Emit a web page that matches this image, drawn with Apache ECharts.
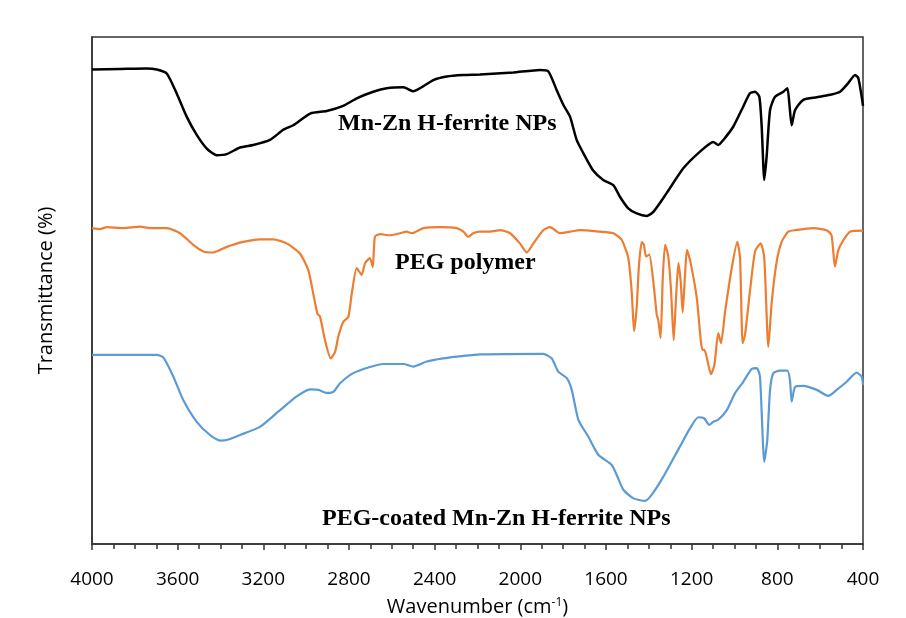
<!DOCTYPE html>
<html>
<head>
<meta charset="utf-8">
<script src="https://cdn.jsdelivr.net/npm/echarts@6/dist/echarts.min.js"></script>
<style>
    html, body { margin: 0; padding: 0; background: #fff; }
    #ftir { width: 906px; height: 618px; }
</style>
</head>
<body>
<div id="ftir"></div>
<script>
// wavenumber (cm-1) and transmittance (arbitrary, offset per curve)
var ferriteWave = [4000, 3869, 3745, 3698, 3651, 3605, 3558, 3511, 3464, 3418, 3371, 3309, 3247, 3169, 3107, 3060,
    2981, 2904, 2827, 2764, 2687, 2624, 2546, 2500, 2406, 2344, 2266, 2188, 2033, 1908, 1869, 1830, 1799, 1768,
    1737, 1706, 1659, 1613, 1566, 1535, 1496, 1457, 1410, 1379, 1317, 1239, 1161, 1099, 1076, 1052, 1006, 959,
    928, 904, 884, 873, 861, 850, 834, 811, 772, 753, 744, 733, 717, 679, 616, 554, 507, 469, 437, 422, 406, 400];
var ferriteT = [93.6, 93.7, 93.8, 93.6, 92.8, 88.9, 84.3, 80.7, 78.0, 76.7, 76.9, 78.2, 78.7, 79.7, 81.7, 82.6,
    84.9, 85.4, 86.4, 87.9, 89.2, 89.9, 90.1, 89.3, 91.5, 92.2, 92.5, 92.6, 93.0, 93.5, 93.2, 89.5, 86.6, 84.3,
    79.7, 77.1, 73.6, 71.8, 70.8, 68.5, 66.2, 65.2, 64.7, 65.5, 69.2, 74.1, 77.4, 79.3, 78.7, 79.7, 82.3, 86.3,
    88.9, 89.2, 88.2, 82.3, 71.8, 76.4, 85.6, 88.2, 89.2, 89.9, 86.9, 82.6, 85.6, 87.6, 88.1, 88.6, 89.2, 90.9,
    92.5, 91.9, 88.2, 86.4];

var pegWave = [4000, 3963, 3931, 3854, 3776, 3729, 3651, 3589, 3527, 3480, 3434, 3371, 3294, 3216, 3153, 3091,
    3029, 2990, 2967, 2948, 2935, 2912, 2885, 2865, 2850, 2827, 2803, 2787, 2764, 2741, 2725, 2702, 2689, 2679,
    2655, 2609, 2562, 2531, 2507, 2453, 2375, 2297, 2266, 2243, 2220, 2188, 2142, 2095, 2048, 2002, 1970, 1939,
    1893, 1861, 1815, 1768, 1721, 1628, 1566, 1527, 1496, 1480, 1469, 1457, 1446, 1433, 1423, 1413, 1398, 1379,
    1363, 1356, 1345, 1335, 1324, 1309, 1296, 1284, 1273, 1262, 1251, 1242, 1231, 1222, 1206, 1176, 1150, 1141,
    1130, 1110, 1094, 1076, 1063, 1044, 1013, 987, 974, 962, 951, 928, 904, 878, 861, 842, 826, 803, 780, 749,
    717, 632, 570, 547, 531, 515, 492, 461, 400];
var pegT = [62.3, 62.1, 62.5, 62.3, 62.6, 62.3, 62.3, 61.3, 59.0, 57.7, 57.5, 58.6, 59.6, 60.1, 60.1, 59.3,
    57.3, 54.0, 49.4, 45.5, 44.8, 40.2, 36.6, 37.9, 40.9, 43.8, 44.8, 49.4, 54.4, 53.1, 55.4, 56.4, 54.6, 60.6,
    61.1, 60.9, 61.3, 61.6, 61.3, 62.3, 62.5, 62.3, 61.6, 60.6, 61.3, 61.6, 61.6, 61.9, 61.3, 59.3, 57.5, 59.3,
    61.9, 62.5, 61.3, 61.6, 61.9, 61.6, 61.3, 60.0, 56.4, 49.8, 42.0, 46.5, 55.0, 59.6, 59.0, 56.7, 57.1, 51.7,
    45.2, 44.2, 40.6, 52.4, 59.0, 56.7, 49.8, 40.2, 48.5, 55.4, 51.7, 45.7, 53.1, 58.0, 55.7, 48.5, 38.3, 38.3,
    36.9, 33.5, 35.3, 41.6, 39.6, 45.8, 54.4, 59.6, 56.4, 39.6, 41.2, 49.8, 57.7, 59.3, 56.4, 38.9, 47.8, 55.7,
    59.6, 61.6, 61.9, 62.3, 61.9, 60.9, 54.7, 58.0, 59.9, 61.6, 61.8];

var coatedWave = [4000, 3698, 3667, 3620, 3574, 3511, 3449, 3402, 3371, 3309, 3216, 3122, 3044, 2982, 2943, 2904,
    2873, 2842, 2780, 2702, 2640, 2546, 2500, 2437, 2360, 2266, 2188, 1893, 1853, 1823, 1783, 1760, 1729, 1683,
    1636, 1573, 1550, 1519, 1472, 1418, 1387, 1332, 1255, 1208, 1169, 1142, 1118, 1099, 1076, 1036, 998, 959,
    920, 896, 881, 861, 847, 834, 819, 788, 753, 741, 733, 717, 679, 616, 562, 523, 476, 430, 406, 400];
var coatedT = [37.3, 37.3, 36.8, 33.0, 28.4, 24.1, 21.5, 20.4, 20.5, 21.5, 23.1, 26.4, 29.1, 30.5, 30.4, 29.8,
    30.0, 31.7, 33.7, 34.9, 35.5, 35.5, 35.0, 36.0, 36.6, 37.1, 37.4, 37.5, 36.6, 34.0, 32.7, 30.4, 24.5, 21.2,
    17.6, 15.6, 13.6, 10.7, 9.0, 8.5, 9.7, 13.3, 19.2, 22.8, 25.0, 24.8, 23.5, 24.1, 24.5, 26.4, 29.7, 32.0,
    34.5, 34.7, 33.0, 16.2, 20.5, 30.4, 33.7, 34.2, 34.2, 32.3, 28.1, 31.0, 31.2, 30.4, 29.2, 30.4, 32.0, 33.8,
    33.0, 31.4];

var curveNames = ['Mn-Zn H-ferrite NPs', 'PEG polymer', 'PEG-coated Mn-Zn H-ferrite NPs'];
var curveColors = ['#000000', '#ED7D31', '#5B9BD5'];

function pairs(xs, ys) {
    var out = [];
    for (var i = 0; i < xs.length; i++) out.push([xs[i], ys[i]]);
    return out;
}

var fontSans = '"Open Sans", "Liberation Sans", sans-serif';
var fontSerif = '"Liberation Serif", "Times New Roman", serif';

var option = {
    backgroundColor: '#fff',
    animation: false,
    grid: {
        left: 92,
        right: 43,
        top: 37,
        bottom: 74,
        outerBoundsMode: 'none',
        containLabel: false,
        show: true,
        borderColor: '#333',
        borderWidth: 1.5
    },
    xAxis: {
        type: 'value',
        inverse: true,
        min: 400,
        max: 4000,
        interval: 400,
        name: 'Wavenumber (cm{sup|-1})',
        nameLocation: 'middle',
        nameGap: 53,
        nameTextStyle: {
            fontFamily: fontSans,
            fontSize: 20,
            color: '#000',
            rich: {
                sup: { fontFamily: fontSans, fontSize: 12, color: '#000', padding: [0, 0, 9, 0] }
            }
        },
        axisLine: { lineStyle: { color: '#333', width: 1.5 } },
        axisTick: { length: 6, lineStyle: { color: '#333', width: 1.5 } },
        minorTick: { show: true, splitNumber: 4, length: 5, lineStyle: { color: '#333', width: 1.5 } },
        splitLine: { show: false },
        axisLabel: {
            margin: 26,
            fontFamily: fontSans,
            fontSize: 19,
            color: '#000',
            showMinLabel: true,
            showMaxLabel: true,
            formatter: function (v) { return String(v); }
        }
    },
    yAxis: {
        type: 'value',
        min: 0,
        max: 100,
        name: 'Transmittance (%)',
        nameLocation: 'middle',
        nameGap: 36,
        nameTextStyle: { fontFamily: fontSans, fontSize: 20, color: '#000' },
        axisLine: { show: true, lineStyle: { color: '#333', width: 1.5 } },
        axisTick: { show: false },
        axisLabel: { show: false },
        splitLine: { show: false }
    },
    series: [
        { name: curveNames[0], data: pairs(ferriteWave, ferriteT) },
        { name: curveNames[1], data: pairs(pegWave, pegT) },
        { name: curveNames[2], data: pairs(coatedWave, coatedT) }
    ].map(function (s, i) {
        s.type = 'line';
        s.showSymbol = false;
        s.smooth = 0.2;
        s.lineStyle = { color: curveColors[i], width: i === 0 ? 2.5 : 2.2 };
        s.itemStyle = { color: curveColors[i] };
        return s;
    }),
    graphic: [
        { type: 'text', left: 338, top: 112, style: { text: curveNames[0], font: 'bold 24px ' + fontSerif, fill: '#000' } },
        { type: 'text', left: 395, top: 251, style: { text: curveNames[1], font: 'bold 24px ' + fontSerif, fill: '#000' } },
        { type: 'text', left: 322, top: 507, style: { text: curveNames[2], font: 'bold 24px ' + fontSerif, fill: '#000' } }
    ]
};

var chart = echarts.init(document.getElementById('ftir'));
chart.setOption(option);
</script>
</body>
</html>
